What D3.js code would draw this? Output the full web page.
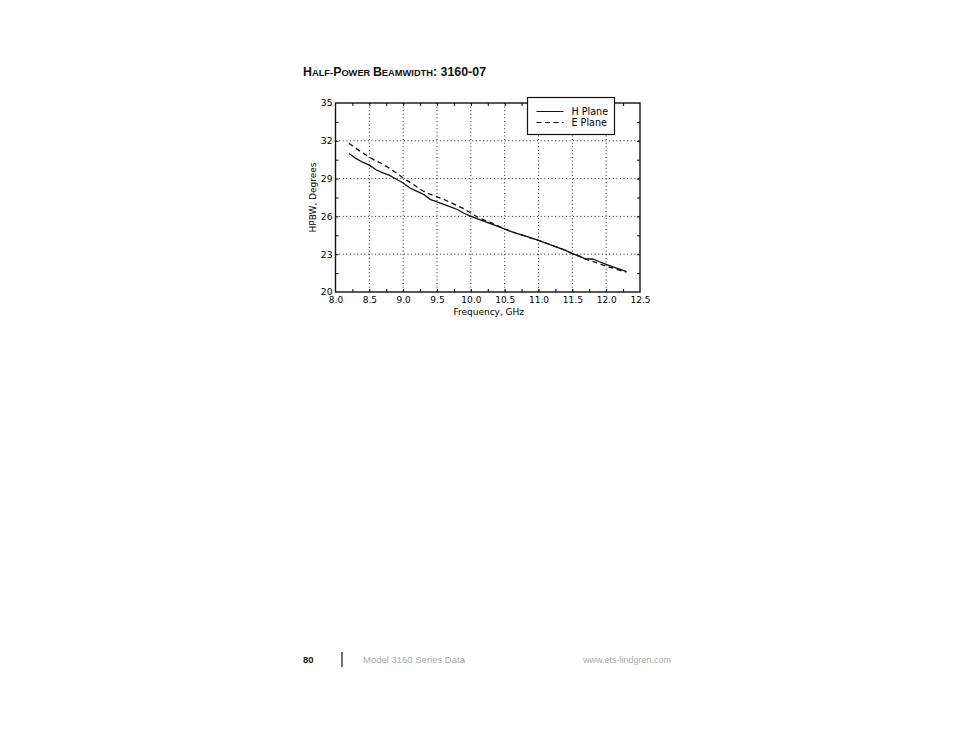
<!DOCTYPE html>
<html>
<head>
<meta charset="utf-8">
<script src="https://cdn.jsdelivr.net/npm/d3@7"></script>
<style>
  body { margin: 0; background: #fff; }
  svg { display: block; }
  .tick text { font-family: "DejaVu Sans", sans-serif; }
</style>
</head>
<body>
<svg id="chart" width="954" height="738"></svg>
<script>
// ---- data ----
var freq = [8.2, 8.3, 8.4, 8.5, 8.6, 8.7, 8.8, 8.9, 9.0, 9.1, 9.2, 9.3, 9.4, 9.5, 9.6, 9.7, 9.8, 9.9,
            10.0, 10.1, 10.2, 10.3, 10.4, 10.5, 10.6, 10.7, 10.8, 10.9, 11.0, 11.1, 11.2, 11.3, 11.4,
            11.5, 11.6, 11.7, 11.8, 11.9, 12.0, 12.1, 12.2, 12.3];
var hPlane = [31.0, 30.6, 30.3, 30.07, 29.7, 29.45, 29.25, 28.95, 28.65, 28.25, 28.0, 27.75, 27.35, 27.15, 26.95, 26.75, 26.55, 26.25,
              26.0, 25.8, 25.6, 25.4, 25.2, 25.0, 24.8, 24.62, 24.45, 24.28, 24.1, 23.9, 23.7, 23.5, 23.3,
              23.05, 22.85, 22.62, 22.62, 22.4, 22.2, 22.0, 21.82, 21.62];
var ePlane = [31.8, 31.4, 31.05, 30.7, 30.4, 30.15, 29.8, 29.45, 29.05, 28.7, 28.35, 28.0, 27.75, 27.55, 27.35, 27.1, 26.85, 26.6,
              26.25, 25.95, 25.7, 25.5, 25.25, 25.0, 24.8, 24.6, 24.45, 24.25, 24.1, 23.9, 23.7, 23.5, 23.3,
              23.05, 22.85, 22.6, 22.42, 22.25, 22.05, 21.9, 21.72, 21.58];
var xTicks = [8.0, 8.5, 9.0, 9.5, 10.0, 10.5, 11.0, 11.5, 12.0, 12.5];
var yTicks = [20, 23, 26, 29, 32, 35];
var seriesNames = ["H Plane", "E Plane"];

var svg = d3.select("#chart"),
    pL = 335.5, pR = 640, pT = 103, pB = 292;

var x = d3.scaleLinear().domain([8.0, 12.5]).range([pL, pR]);
var y = d3.scaleLinear().domain([20, 35]).range([pB, pT]);

// title in small caps
var title = svg.append("text")
    .attr("x", 303).attr("y", 76)
    .attr("font-family", "Liberation Sans, Arial, sans-serif")
    .attr("font-weight", "bold")
    .attr("fill", "#111");
[["H", 12.4], ["ALF-", 9.3], ["P", 12.4], ["OWER ", 9.3], ["B", 12.4], ["EAMWIDTH", 9.3], [": 3160-07", 12.4]]
  .forEach(function(p) { title.append("tspan").attr("font-size", p[1]).text(p[0]); });

var g = svg.append("g");

// dotted grid
g.append("g").selectAll("line")
    .data(xTicks.slice(1, -1))
    .enter().append("line")
      .attr("x1", x).attr("x2", x)
      .attr("y1", pT).attr("y2", pB)
      .attr("stroke", "#222").attr("stroke-width", 1)
      .attr("stroke-dasharray", "1,2.6");

g.append("g").selectAll("line")
    .data(yTicks.slice(1, -1))
    .enter().append("line")
      .attr("x1", pL).attr("x2", pR)
      .attr("y1", y).attr("y2", y)
      .attr("stroke", "#222").attr("stroke-width", 1)
      .attr("stroke-dasharray", "1,2.6");

// minor inward ticks on all four sides
var xMinor = d3.range(8.25, 12.5, 0.25);
var yMinor = d3.range(21.5, 35, 1.5);

g.append("g").call(d3.axisTop(x).tickValues(xMinor).tickSize(3).tickFormat(""))
    .attr("transform", "translate(0," + pB + ")")
    .call(function(a) { a.select(".domain").remove(); });
g.append("g").call(d3.axisBottom(x).tickValues(xMinor).tickSize(3).tickFormat(""))
    .attr("transform", "translate(0," + pT + ")")
    .call(function(a) { a.select(".domain").remove(); });
g.append("g").call(d3.axisRight(y).tickValues(yMinor).tickSize(3).tickFormat(""))
    .attr("transform", "translate(" + pL + ",0)")
    .call(function(a) { a.select(".domain").remove(); });
g.append("g").call(d3.axisLeft(y).tickValues(yMinor).tickSize(3).tickFormat(""))
    .attr("transform", "translate(" + pR + ",0)")
    .call(function(a) { a.select(".domain").remove(); });

// tick labels
var xAxis = g.append("g")
    .attr("transform", "translate(0," + pB + ")")
    .call(d3.axisBottom(x).tickValues(xTicks).tickSize(0).tickPadding(5).tickFormat(d3.format(".1f")));
xAxis.select(".domain").remove();
xAxis.selectAll("text").attr("font-size", 9).attr("fill", "#000");

var yAxis = g.append("g")
    .attr("transform", "translate(" + pL + ",0)")
    .call(d3.axisLeft(y).tickValues(yTicks).tickSize(0).tickPadding(3).tickFormat(d3.format("d")));
yAxis.select(".domain").remove();
yAxis.selectAll("text").attr("font-size", 9.2).attr("fill", "#000");

// frame
g.append("rect")
    .attr("x", pL).attr("y", pT)
    .attr("width", pR - pL).attr("height", pB - pT)
    .attr("fill", "none").attr("stroke", "#111").attr("stroke-width", 1.4);

// axis titles
svg.append("text")
    .attr("x", (pL + pR) / 2 + 1).attr("y", 315)
    .attr("text-anchor", "middle")
    .attr("font-family", "DejaVu Sans, sans-serif")
    .attr("font-size", 9).attr("fill", "#000")
    .text("Frequency, GHz");

svg.append("text")
    .attr("transform", "translate(316," + ((pT + pB) / 2) + ") rotate(-90)")
    .attr("text-anchor", "middle")
    .attr("font-family", "DejaVu Sans, sans-serif")
    .attr("font-size", 9).attr("fill", "#000")
    .text("HPBW, Degrees");

// curves
var line = d3.line()
    .x(function(d) { return x(d[0]); })
    .y(function(d) { return y(d[1]); });

var series = [hPlane, ePlane].map(function(vals) {
  return freq.map(function(f, i) { return [f, vals[i]]; });
});
var dashes = [null, "5,3.5"];

g.append("g").selectAll("path")
    .data(series)
    .enter().append("path")
      .attr("d", line)
      .attr("fill", "none")
      .attr("stroke", "#111")
      .attr("stroke-width", 1.3)
      .attr("stroke-dasharray", function(d, i) { return dashes[i]; });

// legend
var lg = svg.append("g").attr("transform", "translate(527.5,97.5)");
lg.append("rect")
    .attr("width", 87).attr("height", 37)
    .attr("fill", "#fff").attr("stroke", "#111").attr("stroke-width", 1.2);

var item = lg.selectAll(".item")
    .data(seriesNames)
    .enter().append("g")
      .attr("class", "item")
      .attr("transform", function(d, i) { return "translate(0," + (14 + i * 11) + ")"; });

item.append("line")
    .attr("x1", 9).attr("x2", 36)
    .attr("stroke", "#111").attr("stroke-width", 1)
    .attr("stroke-dasharray", function(d, i) { return dashes[i]; });

item.append("text")
    .attr("x", 44).attr("y", 3)
    .attr("font-family", "DejaVu Sans, sans-serif")
    .attr("font-size", 9.6).attr("fill", "#000")
    .text(function(d) { return d; });

// page footer
svg.append("text")
    .attr("x", 303).attr("y", 663)
    .attr("font-family", "Liberation Sans, Arial, sans-serif")
    .attr("font-weight", "bold").attr("font-size", 9.5).attr("fill", "#111")
    .text("80");
svg.append("line")
    .attr("x1", 342).attr("x2", 342).attr("y1", 652).attr("y2", 667)
    .attr("stroke", "#111").attr("stroke-width", 1.2);
svg.append("text")
    .attr("x", 363).attr("y", 663)
    .attr("font-family", "Liberation Sans, Arial, sans-serif")
    .attr("font-size", 9.5).attr("fill", "#aaa")
    .text("Model 3160 Series Data");
svg.append("text")
    .attr("x", 583).attr("y", 663)
    .attr("font-family", "Liberation Sans, Arial, sans-serif")
    .attr("font-size", 9).attr("fill", "#aaa")
    .text("www.ets-lindgren.com");
</script>
</body>
</html>
